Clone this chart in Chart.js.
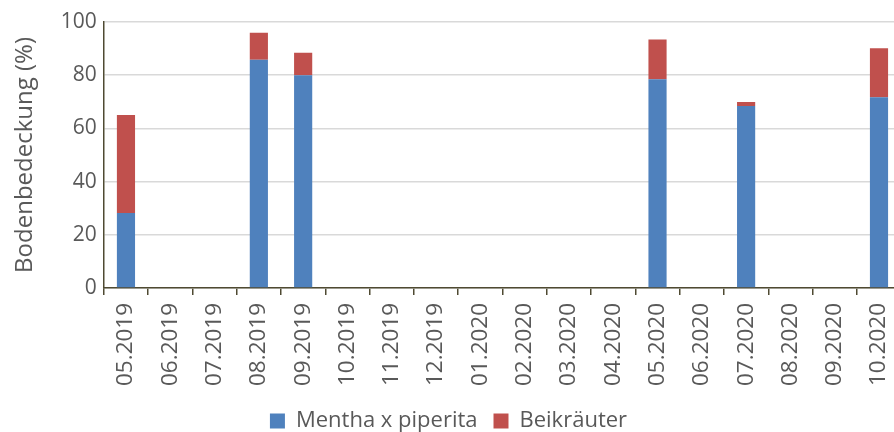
<!DOCTYPE html>
<html>
<head>
<meta charset="utf-8">
<script src="https://cdn.jsdelivr.net/npm/chart.js@4/dist/chart.umd.min.js"></script>
<style>
  html, body { margin: 0; padding: 0; background: #fff; overflow: hidden; }
  #wrap { width: 914px; height: 432px; }
</style>
</head>
<body>
<div id="wrap"><canvas id="c"></canvas></div>
<script>
const months = ['05.2019','06.2019','07.2019','08.2019','09.2019','10.2019','11.2019','12.2019',
  '01.2020','02.2020','03.2020','04.2020','05.2020','06.2020','07.2020','08.2020','09.2020','10.2020'];
const mentha = [28.2, null, null, 85.8, 80, null, null, null, null, null, null, null, 78.5, null, 68.4, null, null, 71.7];
const beikraeuter = [36.8, null, null, 10.2, 8.4, null, null, null, null, null, null, null, 14.9, null, 1.5, null, null, 18.4];
const yTicks = [0, 20, 40, 60, 80, 100];

const grey = '#595959';
const axisCol = '#4f4a32';
const font = 'Open Sans';

// the legend in the original sits a bit left of the canvas centre
const legendShift = {
  id: 'legendShift',
  afterLayout(chart) {
    const lg = chart.legend;
    if (lg) { lg.left -= 12; lg.right -= 12; }
  }
};

new Chart(document.getElementById('c'), {
  type: 'bar',
  data: {
    labels: months,
    datasets: [
      { label: 'Mentha x piperita', data: mentha, backgroundColor: '#4f81bd', barPercentage: 0.41, categoryPercentage: 1 },
      { label: 'Beikräuter', data: beikraeuter, backgroundColor: '#c0504d', barPercentage: 0.41, categoryPercentage: 1 }
    ]
  },
  options: {
    responsive: true,
    maintainAspectRatio: false,
    animation: false,
    layout: { padding: { top: 22, left: 7, right: 0, bottom: -10 } },
    plugins: {
      tooltip: { enabled: false },
      legend: {
        position: 'bottom',
        labels: { color: grey, font: { family: font, size: 22 }, boxWidth: 15, boxHeight: 15, padding: 16 }
      }
    },
    scales: {
      x: {
        stacked: true,
        grid: { display: true, drawOnChartArea: false, color: axisCol, tickLength: 7, lineWidth: 1.5 },
        border: { color: axisCol, width: 1.5 },
        ticks: { color: grey, font: { family: font, size: 22.5 }, maxRotation: 90, minRotation: 90, autoSkip: false, padding: 8 }
      },
      y: {
        stacked: true,
        min: 0, max: 100,
        afterBuildTicks: ax => { ax.ticks = yTicks.map(v => ({ value: v })); },
        grid: { color: '#d9d9d9', lineWidth: 1.5, drawTicks: false },
        border: { color: axisCol, width: 1.5 },
        ticks: { color: grey, font: { family: font, size: 21 }, padding: 7 },
        title: { display: true, text: 'Bodenbedeckung (%)', color: grey, font: { family: font, size: 24 }, padding: { top: 4, bottom: 14 } }
      }
    }
  },
  plugins: [legendShift]
});
</script>
</body>
</html>
